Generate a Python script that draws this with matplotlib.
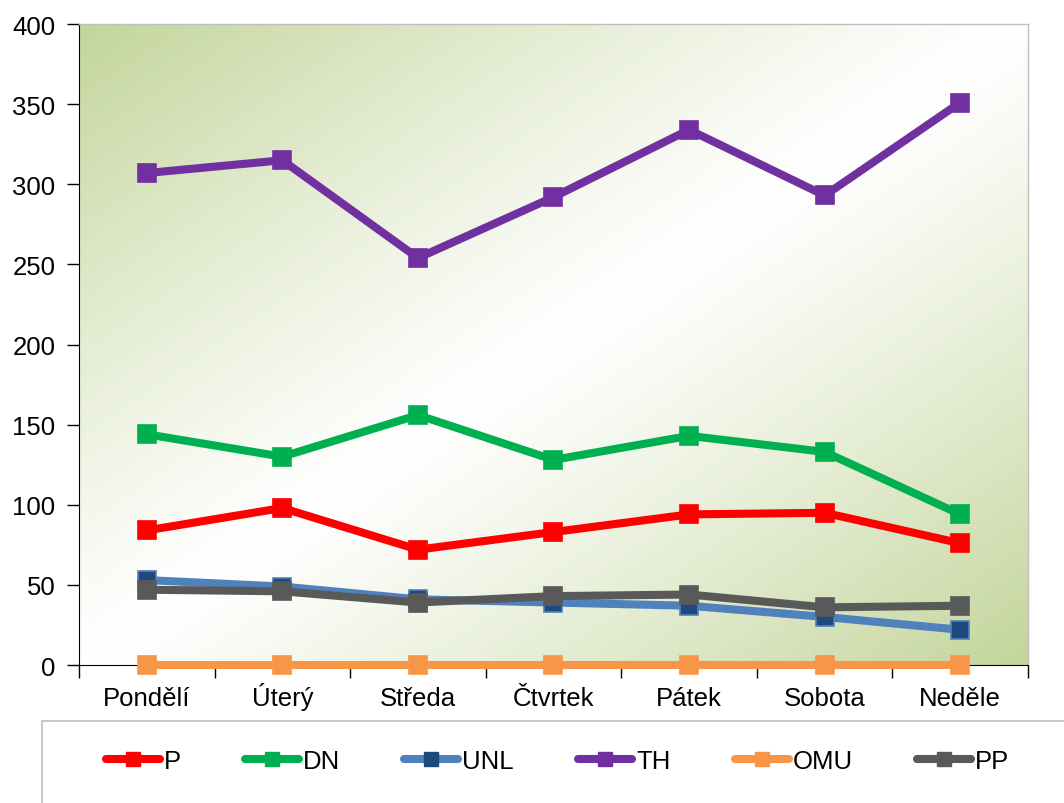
import numpy as np
import matplotlib
matplotlib.use('Agg')
from matplotlib import pyplot as plt
from matplotlib.colors import LinearSegmentedColormap
from matplotlib.lines import Line2D
from matplotlib.patches import Rectangle

plt.rcParams['font.family'] = ['Liberation Sans', 'DejaVu Sans']

# Data
days = ['Pondělí', 'Úterý', 'Středa', 'Čtvrtek', 'Pátek', 'Sobota', 'Neděle']
p_vals = [84, 98, 72, 83, 94, 95, 76]
dn_vals = [144, 130, 156, 128, 143, 133, 94]
unl_vals = [53, 49, 41, 39, 37, 30, 22]
th_vals = [307, 315, 254, 292, 334, 293, 351]
omu_vals = [0, 0, 0, 0, 0, 0, 0]
pp_vals = [47, 46, 39, 43, 44, 36, 37]

series = [
    ('P', p_vals, '#ff0000', '#ff0000'),
    ('DN', dn_vals, '#00b050', '#00b050'),
    ('UNL', unl_vals, '#4f81bd', '#1f497d'),
    ('TH', th_vals, '#7030a0', '#7030a0'),
    ('OMU', omu_vals, '#f79646', '#f79646'),
    ('PP', pp_vals, '#595959', '#595959'),
]

FS = 18.5

fig = plt.figure(figsize=(10.64, 8.04), dpi=100)
ax = fig.add_axes([0.0742, 0.1716, 0.8920, 0.7973])

# diagonal gradient background: green in top-left / bottom-right, white on the other diagonal
n = 300
gx, gy = np.meshgrid(np.linspace(0, 1, n), np.linspace(1, 0, n))
t = np.abs(gx - gy) ** 1.15
cmap = LinearSegmentedColormap.from_list('bg', ['#ffffff', '#c3d59b'])
ax.imshow(t, cmap=cmap, extent=[0, 1, 0, 1], transform=ax.transAxes,
          aspect='auto', zorder=0, vmin=0, vmax=1, interpolation='bilinear')

x = np.arange(len(days))
for name, vals, lc, mc in series:
    ax.plot(x, vals, color=lc, linewidth=5.8, marker='s', markersize=13,
            markerfacecolor=mc, markeredgecolor=lc, markeredgewidth=1.2,
            clip_on=False, zorder=3, label=name)

ax.set_xlim(-0.5, len(days) - 0.5)
ax.set_ylim(0, 400)
ax.set_yticks(np.arange(0, 401, 50))
ax.set_xticks(x)
ax.set_xticklabels(days)
ax.set_xticks(np.arange(-0.5, len(days), 1.0), minor=True)
ax.tick_params(axis='x', which='major', length=0, labelsize=FS, pad=29)
ax.tick_params(axis='x', which='minor', length=9, width=1, direction='out')
ax.tick_params(axis='y', length=9, width=1, direction='out', labelsize=FS, pad=8)
for lab in ax.get_xticklabels():
    lab.set_verticalalignment('baseline')

for side in ['top', 'right']:
    ax.spines[side].set_color('#bfbfbf')
    ax.spines[side].set_linewidth(1)
ax.spines['left'].set_color('black')
ax.spines['bottom'].set_color('black')

# legend frame below the plot
fig.patches.append(Rectangle((0.0395, -0.05), 1.0, 0.152, transform=fig.transFigure,
                             facecolor='white', edgecolor='#bfbfbf', linewidth=1.2,
                             zorder=0))

handles = [Line2D([0], [0], color=lc, linewidth=5.8, marker='s', markersize=10,
                  markerfacecolor=mc, markeredgecolor=mc, solid_capstyle='round')
           for _, _, lc, mc in series]
fig.legend(handles, [s[0] for s in series], loc='center left',
           bbox_to_anchor=(0.0996, 0.0522), ncol=6, frameon=False, fontsize=FS,
           handlelength=2.1, handletextpad=0.15, columnspacing=2.5, borderpad=0,
           borderaxespad=0)

plt.savefig('out.png', dpi=100)
